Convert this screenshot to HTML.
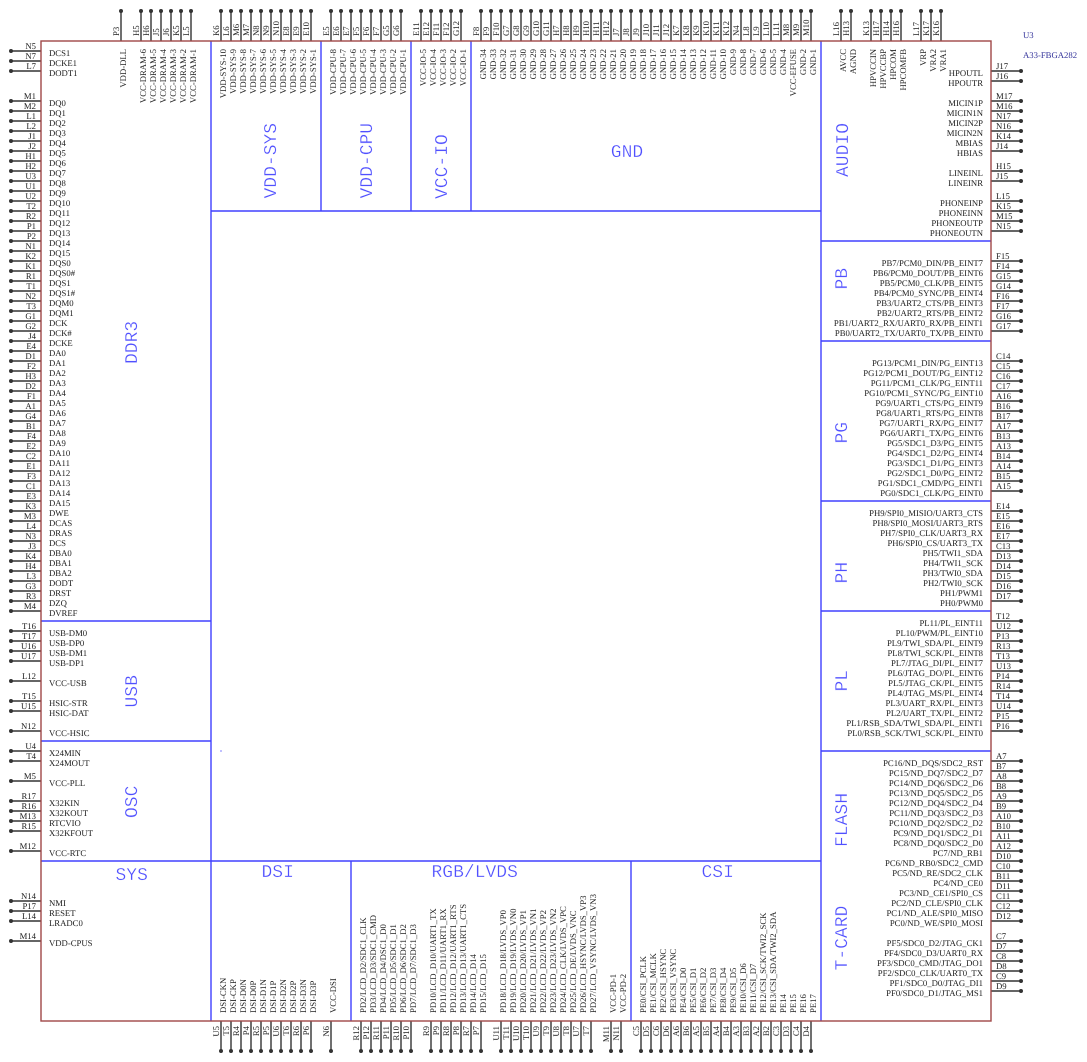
<!DOCTYPE html>
<html><head><meta charset="utf-8"><title>A33-FBGA282</title>
<style>
html,body{margin:0;padding:0;background:#fff}
svg{display:block}
text{font-family:"Liberation Serif",serif;font-size:8.7px;fill:#222;text-rendering:geometricPrecision}
.s text{font-family:"Liberation Mono",monospace;font-size:18px;fill:#5050ff;stroke:#fff;stroke-width:.3px}
.e{text-anchor:end}
</style></head><body>
<svg xmlns="http://www.w3.org/2000/svg" width="1087" height="1062" viewBox="0 0 1087 1062">
<defs><path id="p" d="M11 51h30M11 61h30M11 71h30M11 101h30M11 111h30M11 121h30M11 131h30M11 141h30M11 151h30M11 161h30M11 171h30M11 181h30M11 191h30M11 201h30M11 211h30M11 221h30M11 231h30M11 241h30M11 251h30M11 261h30M11 271h30M11 281h30M11 291h30M11 301h30M11 311h30M11 321h30M11 331h30M11 341h30M11 351h30M11 361h30M11 371h30M11 381h30M11 391h30M11 401h30M11 411h30M11 421h30M11 431h30M11 441h30M11 451h30M11 461h30M11 471h30M11 481h30M11 491h30M11 501h30M11 511h30M11 521h30M11 531h30M11 541h30M11 551h30M11 561h30M11 571h30M11 581h30M11 591h30M11 601h30M11 611h30M11 631h30M11 641h30M11 651h30M11 661h30M11 681h30M11 701h30M11 711h30M11 731h30M11 751h30M11 761h30M11 781h30M11 801h30M11 811h30M11 821h30M11 831h30M11 851h30M11 901h30M11 911h30M11 921h30M11 941h30
M1021 71h-30M1021 81h-30M1021 101h-30M1021 111h-30M1021 121h-30M1021 131h-30M1021 141h-30M1021 151h-30M1021 171h-30M1021 181h-30M1021 201h-30M1021 211h-30M1021 221h-30M1021 231h-30M1021 261h-30M1021 271h-30M1021 281h-30M1021 291h-30M1021 301h-30M1021 311h-30M1021 321h-30M1021 331h-30M1021 361h-30M1021 371h-30M1021 381h-30M1021 391h-30M1021 401h-30M1021 411h-30M1021 421h-30M1021 431h-30M1021 441h-30M1021 451h-30M1021 461h-30M1021 471h-30M1021 481h-30M1021 491h-30M1021 511h-30M1021 521h-30M1021 531h-30M1021 541h-30M1021 551h-30M1021 561h-30M1021 571h-30M1021 581h-30M1021 591h-30M1021 601h-30M1021 621h-30M1021 631h-30M1021 641h-30M1021 651h-30M1021 661h-30M1021 671h-30M1021 681h-30M1021 691h-30M1021 701h-30M1021 711h-30M1021 721h-30M1021 731h-30M1021 761h-30M1021 771h-30M1021 781h-30M1021 791h-30M1021 801h-30M1021 811h-30M1021 821h-30M1021 831h-30M1021 841h-30M1021 851h-30M1021 861h-30M1021 871h-30M1021 881h-30M1021 891h-30M1021 901h-30M1021 911h-30M1021 921h-30M1021 941h-30M1021 951h-30M1021 961h-30M1021 971h-30M1021 981h-30M1021 991h-30
M121 11v30M141 11v30M151 11v30M161 11v30M171 11v30M181 11v30M191 11v30M221 11v30M231 11v30M241 11v30M251 11v30M261 11v30M271 11v30M281 11v30M291 11v30M301 11v30M311 11v30M331 11v30M341 11v30M351 11v30M361 11v30M371 11v30M381 11v30M391 11v30M401 11v30M421 11v30M431 11v30M441 11v30M451 11v30M461 11v30M481 11v30M491 11v30M501 11v30M511 11v30M521 11v30M531 11v30M541 11v30M551 11v30M561 11v30M571 11v30M581 11v30M591 11v30M601 11v30M611 11v30M621 11v30M631 11v30M641 11v30M651 11v30M661 11v30M671 11v30M681 11v30M691 11v30M701 11v30M711 11v30M721 11v30M731 11v30M741 11v30M751 11v30M761 11v30M771 11v30M781 11v30M791 11v30M801 11v30M811 11v30M841 11v30M851 11v30M871 11v30M881 11v30M891 11v30M901 11v30M921 11v30M931 11v30M941 11v30
M221 1051v-30M231 1051v-30M241 1051v-30M251 1051v-30M261 1051v-30M271 1051v-30M281 1051v-30M291 1051v-30M301 1051v-30M311 1051v-30M331 1051v-30M361 1051v-30M371 1051v-30M381 1051v-30M391 1051v-30M401 1051v-30M411 1051v-30M431 1051v-30M441 1051v-30M451 1051v-30M461 1051v-30M471 1051v-30M481 1051v-30M501 1051v-30M511 1051v-30M521 1051v-30M531 1051v-30M541 1051v-30M551 1051v-30M561 1051v-30M571 1051v-30M581 1051v-30M591 1051v-30M611 1051v-30M621 1051v-30M641 1051v-30M651 1051v-30M661 1051v-30M671 1051v-30M681 1051v-30M691 1051v-30M701 1051v-30M711 1051v-30M721 1051v-30M731 1051v-30M741 1051v-30M751 1051v-30M761 1051v-30M771 1051v-30M781 1051v-30M791 1051v-30M801 1051v-30M811 1051v-30"/></defs>
<use href="#p" fill="none" stroke="#333" stroke-width="1.4"/>
<use href="#p" fill="none" stroke="#333" stroke-width="4" stroke-linecap="round" stroke-dasharray="0 99"/>
<path fill="none" stroke="#4040ff" stroke-width="1.4" d="M211 41V1021M321 41V211M411 41V211M471 41V211M821 41V1021M211 211H821M821 241H991M821 341H991M821 501H991M821 611H991M821 751H991M41 621H211M41 741H211M41 861H821M351 861V1021M631 861V1021"/>
<rect x="41" y="41" width="950" height="980" fill="none" stroke="#a04848" stroke-width="1.4"/>
<rect x="220" y="750" width="2" height="2" fill="#c0c0ff"/>
<g class="s">
<text x="627" y="157" text-anchor="middle">GND</text>
<text x="115.5" y="880">SYS</text>
<text x="261.5" y="877">DSI</text>
<text x="431.5" y="877">RGB/LVDS</text>
<text x="701.5" y="877">CSI</text>
<g transform="rotate(-90)">
<text x="-198.5" y="276">VDD-SYS</text>
<text x="-198.5" y="372">VDD-CPU</text>
<text x="-199" y="447">VCC-IO</text>
<text x="-177" y="848">AUDIO</text>
<text x="-364" y="137">DDR3</text>
<text x="-707.5" y="137">USB</text>
<text x="-818" y="137">OSC</text>
<text x="-289.5" y="847">PB</text>
<text x="-443.5" y="847">PG</text>
<text x="-583.5" y="847">PH</text>
<text x="-691.5" y="847">PL</text>
<text x="-847" y="847">FLASH</text>
<text x="-970.5" y="847">T-CARD</text>
</g></g>
<text x="1023" y="38" style="fill:#33339a">U3</text>
<text x="1023" y="58" style="fill:#33339a">A33-FBGA282</text>
<g class="e">
<text x="36" y="49">N5</text><text x="36" y="59">N7</text><text x="36" y="69">L7</text><text x="36" y="99">M1</text><text x="36" y="109">M2</text><text x="36" y="119">L1</text><text x="36" y="129">L2</text><text x="36" y="139">J1</text><text x="36" y="149">J2</text><text x="36" y="159">H1</text><text x="36" y="169">H2</text><text x="36" y="179">U3</text><text x="36" y="189">U1</text><text x="36" y="199">U2</text><text x="36" y="209">T2</text><text x="36" y="219">R2</text><text x="36" y="229">P1</text><text x="36" y="239">P2</text><text x="36" y="249">N1</text><text x="36" y="259">K2</text><text x="36" y="269">K1</text><text x="36" y="279">R1</text><text x="36" y="289">T1</text><text x="36" y="299">N2</text><text x="36" y="309">T3</text><text x="36" y="319">G1</text><text x="36" y="329">G2</text><text x="36" y="339">J4</text><text x="36" y="349">E4</text><text x="36" y="359">D1</text><text x="36" y="369">F2</text><text x="36" y="379">H3</text><text x="36" y="389">D2</text><text x="36" y="399">F1</text><text x="36" y="409">A1</text><text x="36" y="419">G4</text><text x="36" y="429">B1</text><text x="36" y="439">F4</text><text x="36" y="449">E2</text><text x="36" y="459">C2</text><text x="36" y="469">E1</text><text x="36" y="479">F3</text><text x="36" y="489">C1</text><text x="36" y="499">E3</text><text x="36" y="509">K3</text><text x="36" y="519">M3</text><text x="36" y="529">L4</text><text x="36" y="539">N3</text><text x="36" y="549">J3</text><text x="36" y="559">K4</text><text x="36" y="569">H4</text><text x="36" y="579">L3</text><text x="36" y="589">G3</text><text x="36" y="599">R3</text><text x="36" y="609">M4</text><text x="36" y="629">T16</text><text x="36" y="639">T17</text><text x="36" y="649">U16</text><text x="36" y="659">U17</text><text x="36" y="679">L12</text><text x="36" y="699">T15</text><text x="36" y="709">U15</text><text x="36" y="729">N12</text><text x="36" y="749">U4</text><text x="36" y="759">T4</text><text x="36" y="779">M5</text><text x="36" y="799">R17</text><text x="36" y="809">R16</text><text x="36" y="819">M13</text><text x="36" y="829">R15</text><text x="36" y="849">M12</text><text x="36" y="899">N14</text><text x="36" y="909">P17</text><text x="36" y="919">L14</text><text x="36" y="939">M14</text>
<text x="983" y="76">HPOUTL</text><text x="983" y="86">HPOUTR</text><text x="983" y="106">MICIN1P</text><text x="983" y="116">MICIN1N</text><text x="983" y="126">MICIN2P</text><text x="983" y="136">MICIN2N</text><text x="983" y="146">MBIAS</text><text x="983" y="156">HBIAS</text><text x="983" y="176">LINEINL</text><text x="983" y="186">LINEINR</text><text x="983" y="206">PHONEINP</text><text x="983" y="216">PHONEINN</text><text x="983" y="226">PHONEOUTP</text><text x="983" y="236">PHONEOUTN</text>
<text x="983" y="266">PB7/PCM0_DIN/PB_EINT7</text><text x="983" y="276">PB6/PCM0_DOUT/PB_EINT6</text><text x="983" y="286">PB5/PCM0_CLK/PB_EINT5</text><text x="983" y="296">PB4/PCM0_SYNC/PB_EINT4</text><text x="983" y="306">PB3/UART2_CTS/PB_EINT3</text><text x="983" y="316">PB2/UART2_RTS/PB_EINT2</text><text x="983" y="326">PB1/UART2_RX/UART0_RX/PB_EINT1</text><text x="983" y="336">PB0/UART2_TX/UART0_TX/PB_EINT0</text>
<text x="983" y="366">PG13/PCM1_DIN/PG_EINT13</text><text x="983" y="376">PG12/PCM1_DOUT/PG_EINT12</text><text x="983" y="386">PG11/PCM1_CLK/PG_EINT11</text><text x="983" y="396">PG10/PCM1_SYNC/PG_EINT10</text><text x="983" y="406">PG9/UART1_CTS/PG_EINT9</text><text x="983" y="416">PG8/UART1_RTS/PG_EINT8</text><text x="983" y="426">PG7/UART1_RX/PG_EINT7</text><text x="983" y="436">PG6/UART1_TX/PG_EINT6</text><text x="983" y="446">PG5/SDC1_D3/PG_EINT5</text><text x="983" y="456">PG4/SDC1_D2/PG_EINT4</text><text x="983" y="466">PG3/SDC1_D1/PG_EINT3</text><text x="983" y="476">PG2/SDC1_D0/PG_EINT2</text><text x="983" y="486">PG1/SDC1_CMD/PG_EINT1</text><text x="983" y="496">PG0/SDC1_CLK/PG_EINT0</text>
<text x="983" y="516">PH9/SPI0_MISIO/UART3_CTS</text><text x="983" y="526">PH8/SPI0_MOSI/UART3_RTS</text><text x="983" y="536">PH7/SPI0_CLK/UART3_RX</text><text x="983" y="546">PH6/SPI0_CS/UART3_TX</text><text x="983" y="556">PH5/TWI1_SDA</text><text x="983" y="566">PH4/TWI1_SCK</text><text x="983" y="576">PH3/TWI0_SDA</text><text x="983" y="586">PH2/TWI0_SCK</text><text x="983" y="596">PH1/PWM1</text><text x="983" y="606">PH0/PWM0</text>
<text x="983" y="626">PL11/PL_EINT11</text><text x="983" y="636">PL10/PWM/PL_EINT10</text><text x="983" y="646">PL9/TWI_SDA/PL_EINT9</text><text x="983" y="656">PL8/TWI_SCK/PL_EINT8</text><text x="983" y="666">PL7/JTAG_DI/PL_EINT7</text><text x="983" y="676">PL6/JTAG_DO/PL_EINT6</text><text x="983" y="686">PL5/JTAG_CK/PL_EINT5</text><text x="983" y="696">PL4/JTAG_MS/PL_EINT4</text><text x="983" y="706">PL3/UART_RX/PL_EINT3</text><text x="983" y="716">PL2/UART_TX/PL_EINT2</text><text x="983" y="726">PL1/RSB_SDA/TWI_SDA/PL_EINT1</text><text x="983" y="736">PL0/RSB_SCK/TWI_SCK/PL_EINT0</text>
<text x="983" y="766">PC16/ND_DQS/SDC2_RST</text><text x="983" y="776">PC15/ND_DQ7/SDC2_D7</text><text x="983" y="786">PC14/ND_DQ6/SDC2_D6</text><text x="983" y="796">PC13/ND_DQ5/SDC2_D5</text><text x="983" y="806">PC12/ND_DQ4/SDC2_D4</text><text x="983" y="816">PC11/ND_DQ3/SDC2_D3</text><text x="983" y="826">PC10/ND_DQ2/SDC2_D2</text><text x="983" y="836">PC9/ND_DQ1/SDC2_D1</text><text x="983" y="846">PC8/ND_DQ0/SDC2_D0</text><text x="983" y="856">PC7/ND_RB1</text><text x="983" y="866">PC6/ND_RB0/SDC2_CMD</text><text x="983" y="876">PC5/ND_RE/SDC2_CLK</text><text x="983" y="886">PC4/ND_CE0</text><text x="983" y="896">PC3/ND_CE1/SPI0_CS</text><text x="983" y="906">PC2/ND_CLE/SPI0_CLK</text><text x="983" y="916">PC1/ND_ALE/SPI0_MISO</text><text x="983" y="926">PC0/ND_WE/SPI0_MOSI</text>
<text x="983" y="946">PF5/SDC0_D2/JTAG_CK1</text><text x="983" y="956">PF4/SDC0_D3/UART0_RX</text><text x="983" y="966">PF3/SDC0_CMD/JTAG_DO1</text><text x="983" y="976">PF2/SDC0_CLK/UART0_TX</text><text x="983" y="986">PF1/SDC0_D0/JTAG_DI1</text><text x="983" y="996">PF0/SDC0_D1/JTAG_MS1</text>
</g>
<g>
<text x="49" y="56">DCS1</text><text x="49" y="66">DCKE1</text><text x="49" y="76">DODT1</text><text x="49" y="106">DQ0</text><text x="49" y="116">DQ1</text><text x="49" y="126">DQ2</text><text x="49" y="136">DQ3</text><text x="49" y="146">DQ4</text><text x="49" y="156">DQ5</text><text x="49" y="166">DQ6</text><text x="49" y="176">DQ7</text><text x="49" y="186">DQ8</text><text x="49" y="196">DQ9</text><text x="49" y="206">DQ10</text><text x="49" y="216">DQ11</text><text x="49" y="226">DQ12</text><text x="49" y="236">DQ13</text><text x="49" y="246">DQ14</text><text x="49" y="256">DQ15</text><text x="49" y="266">DQS0</text><text x="49" y="276">DQS0#</text><text x="49" y="286">DQS1</text><text x="49" y="296">DQS1#</text><text x="49" y="306">DQM0</text><text x="49" y="316">DQM1</text><text x="49" y="326">DCK</text><text x="49" y="336">DCK#</text><text x="49" y="346">DCKE</text><text x="49" y="356">DA0</text><text x="49" y="366">DA1</text><text x="49" y="376">DA2</text><text x="49" y="386">DA3</text><text x="49" y="396">DA4</text><text x="49" y="406">DA5</text><text x="49" y="416">DA6</text><text x="49" y="426">DA7</text><text x="49" y="436">DA8</text><text x="49" y="446">DA9</text><text x="49" y="456">DA10</text><text x="49" y="466">DA11</text><text x="49" y="476">DA12</text><text x="49" y="486">DA13</text><text x="49" y="496">DA14</text><text x="49" y="506">DA15</text><text x="49" y="516">DWE</text><text x="49" y="526">DCAS</text><text x="49" y="536">DRAS</text><text x="49" y="546">DCS</text><text x="49" y="556">DBA0</text><text x="49" y="566">DBA1</text><text x="49" y="576">DBA2</text><text x="49" y="586">DODT</text><text x="49" y="596">DRST</text><text x="49" y="606">DZQ</text><text x="49" y="616">DVREF</text><text x="49" y="636">USB-DM0</text><text x="49" y="646">USB-DP0</text><text x="49" y="656">USB-DM1</text><text x="49" y="666">USB-DP1</text><text x="49" y="686">VCC-USB</text><text x="49" y="706">HSIC-STR</text><text x="49" y="716">HSIC-DAT</text><text x="49" y="736">VCC-HSIC</text><text x="49" y="756">X24MIN</text><text x="49" y="766">X24MOUT</text><text x="49" y="786">VCC-PLL</text><text x="49" y="806">X32KIN</text><text x="49" y="816">X32KOUT</text><text x="49" y="826">RTCVIO</text><text x="49" y="836">X32KFOUT</text><text x="49" y="856">VCC-RTC</text><text x="49" y="906">NMI</text><text x="49" y="916">RESET</text><text x="49" y="926">LRADC0</text><text x="49" y="946">VDD-CPUS</text>
<text x="996" y="69">J17</text><text x="996" y="79">J16</text><text x="996" y="99">M17</text><text x="996" y="109">M16</text><text x="996" y="119">N17</text><text x="996" y="129">N16</text><text x="996" y="139">K14</text><text x="996" y="149">J14</text><text x="996" y="169">H15</text><text x="996" y="179">J15</text><text x="996" y="199">L15</text><text x="996" y="209">K15</text><text x="996" y="219">M15</text><text x="996" y="229">N15</text>
<text x="996" y="259">F15</text><text x="996" y="269">F14</text><text x="996" y="279">G15</text><text x="996" y="289">G14</text><text x="996" y="299">F16</text><text x="996" y="309">F17</text><text x="996" y="319">G16</text><text x="996" y="329">G17</text>
<text x="996" y="359">C14</text><text x="996" y="369">C15</text><text x="996" y="379">C16</text><text x="996" y="389">C17</text><text x="996" y="399">A16</text><text x="996" y="409">B16</text><text x="996" y="419">B17</text><text x="996" y="429">A17</text><text x="996" y="439">B13</text><text x="996" y="449">A13</text><text x="996" y="459">B14</text><text x="996" y="469">A14</text><text x="996" y="479">B15</text><text x="996" y="489">A15</text>
<text x="996" y="509">E14</text><text x="996" y="519">E15</text><text x="996" y="529">E16</text><text x="996" y="539">E17</text><text x="996" y="549">C13</text><text x="996" y="559">D13</text><text x="996" y="569">D14</text><text x="996" y="579">D15</text><text x="996" y="589">D16</text><text x="996" y="599">D17</text>
<text x="996" y="619">T12</text><text x="996" y="629">U12</text><text x="996" y="639">P13</text><text x="996" y="649">R13</text><text x="996" y="659">T13</text><text x="996" y="669">U13</text><text x="996" y="679">P14</text><text x="996" y="689">R14</text><text x="996" y="699">T14</text><text x="996" y="709">U14</text><text x="996" y="719">P15</text><text x="996" y="729">P16</text>
<text x="996" y="759">A7</text><text x="996" y="769">B7</text><text x="996" y="779">A8</text><text x="996" y="789">B8</text><text x="996" y="799">A9</text><text x="996" y="809">B9</text><text x="996" y="819">A10</text><text x="996" y="829">B10</text><text x="996" y="839">A11</text><text x="996" y="849">A12</text><text x="996" y="859">D10</text><text x="996" y="869">C10</text><text x="996" y="879">B11</text><text x="996" y="889">D11</text><text x="996" y="899">C11</text><text x="996" y="909">C12</text><text x="996" y="919">D12</text>
<text x="996" y="939">C7</text><text x="996" y="949">D7</text><text x="996" y="959">C8</text><text x="996" y="969">D8</text><text x="996" y="979">C9</text><text x="996" y="989">D9</text>
</g>
<g transform="rotate(-90)">
<g>
<text x="-36" y="119">P3</text><text x="-36" y="139">H5</text><text x="-36" y="149">H6</text><text x="-36" y="159">J5</text><text x="-36" y="169">J6</text><text x="-36" y="179">K5</text><text x="-36" y="189">L5</text><text x="-36" y="219">K6</text><text x="-36" y="229">L6</text><text x="-36" y="239">M6</text><text x="-36" y="249">M7</text><text x="-36" y="259">N8</text><text x="-36" y="269">N9</text><text x="-36" y="279">N10</text><text x="-36" y="289">E8</text><text x="-36" y="299">E9</text><text x="-36" y="309">E10</text><text x="-36" y="329">E5</text><text x="-36" y="339">E6</text><text x="-36" y="349">E7</text><text x="-36" y="359">F5</text><text x="-36" y="369">F6</text><text x="-36" y="379">F7</text><text x="-36" y="389">G5</text><text x="-36" y="399">G6</text><text x="-36" y="419">E11</text><text x="-36" y="429">E12</text><text x="-36" y="439">F11</text><text x="-36" y="449">F12</text><text x="-36" y="459">G12</text><text x="-36" y="479">F8</text><text x="-36" y="489">F9</text><text x="-36" y="499">F10</text><text x="-36" y="509">G7</text><text x="-36" y="519">G8</text><text x="-36" y="529">G9</text><text x="-36" y="539">G10</text><text x="-36" y="549">G11</text><text x="-36" y="559">H7</text><text x="-36" y="569">H8</text><text x="-36" y="579">H9</text><text x="-36" y="589">H10</text><text x="-36" y="599">H11</text><text x="-36" y="609">H12</text><text x="-36" y="619">J7</text><text x="-36" y="629">J8</text><text x="-36" y="639">J9</text><text x="-36" y="649">J10</text><text x="-36" y="659">J11</text><text x="-36" y="669">J12</text><text x="-36" y="679">K7</text><text x="-36" y="689">K8</text><text x="-36" y="699">K9</text><text x="-36" y="709">K10</text><text x="-36" y="719">K11</text><text x="-36" y="729">K12</text><text x="-36" y="739">N4</text><text x="-36" y="749">L8</text><text x="-36" y="759">L9</text><text x="-36" y="769">L10</text><text x="-36" y="779">L11</text><text x="-36" y="789">M8</text><text x="-36" y="799">M9</text><text x="-36" y="809">M10</text><text x="-36" y="839">L16</text><text x="-36" y="849">H13</text><text x="-36" y="869">K13</text><text x="-36" y="879">H17</text><text x="-36" y="889">H14</text><text x="-36" y="899">H16</text><text x="-36" y="919">L17</text><text x="-36" y="929">K17</text><text x="-36" y="939">K16</text>
<text x="-1013" y="226">DSI-CKN</text><text x="-1013" y="236">DSI-CKP</text><text x="-1013" y="246">DSI-D0N</text><text x="-1013" y="256">DSI-D0P</text><text x="-1013" y="266">DSI-D1N</text><text x="-1013" y="276">DSI-D1P</text><text x="-1013" y="286">DSI-D2N</text><text x="-1013" y="296">DSI-D2P</text><text x="-1013" y="306">DSI-D3N</text><text x="-1013" y="316">DSI-D3P</text><text x="-1013" y="336">VCC-DSI</text>
<text x="-1013" y="366">PD2/LCD_D2/SDC1_CLK</text><text x="-1013" y="376">PD3/LCD_D3/SDC1_CMD</text><text x="-1013" y="386">PD4/LCD_D4/DSC1_D0</text><text x="-1013" y="396">PD5/LCD_D5/SDC1_D1</text><text x="-1013" y="406">PD6/LCD_D6/SDC1_D2</text><text x="-1013" y="416">PD7/LCD_D7/SDC1_D3</text><text x="-1013" y="436">PD10/LCD_D10/UART1_TX</text><text x="-1013" y="446">PD11/LCD_D11/UART1_RX</text><text x="-1013" y="456">PD12/LCD_D12/UART1_RTS</text><text x="-1013" y="466">PD13/LCD_D13/UART1_CTS</text><text x="-1013" y="476">PD14/LCD_D14</text><text x="-1013" y="486">PD15/LCD_D15</text><text x="-1013" y="506">PD18/LCD_D18/LVDS_VP0</text><text x="-1013" y="516">PD19/LCD_D19/LVDS_VN0</text><text x="-1013" y="526">PD20/LCD_D20/LVDS_VP1</text><text x="-1013" y="536">PD21/LCD_D21/LVDS_VN1</text><text x="-1013" y="546">PD22/LCD_D22/LVDS_VP2</text><text x="-1013" y="556">PD23/LCD_D23/LVDS_VN2</text><text x="-1013" y="566">PD24/LCD_CLK/LVDS_VPC</text><text x="-1013" y="576">PD25/LCD_DE/LVDS_VNC</text><text x="-1013" y="586">PD26/LCD_HSYNC/LVDS_VP3</text><text x="-1013" y="596">PD27/LCD_VSYNC/LVDS_VN3</text><text x="-1013" y="616">VCC-PD-1</text><text x="-1013" y="626">VCC-PD-2</text>
<text x="-1013" y="646">PE0/CSI_PCLK</text><text x="-1013" y="656">PE1/CSI_MCLK</text><text x="-1013" y="666">PE2/CSI_HSYNC</text><text x="-1013" y="676">PE3/CSI_VSYNC</text><text x="-1013" y="686">PE4/CSI_D0</text><text x="-1013" y="696">PE5/CSI_D1</text><text x="-1013" y="706">PE6/CSI_D2</text><text x="-1013" y="716">PE7/CSI_D3</text><text x="-1013" y="726">PE8/CSI_D4</text><text x="-1013" y="736">PE9/CSI_D5</text><text x="-1013" y="746">PE10/CSI_D6</text><text x="-1013" y="756">PE11/CSI_D7</text><text x="-1013" y="766">PE12/CSI_SCK/TWI2_SCK</text><text x="-1013" y="776">PE13/CSI_SDA/TWI2_SDA</text><text x="-1013" y="786">PE14</text><text x="-1013" y="796">PE15</text><text x="-1013" y="806">PE16</text><text x="-1013" y="816">PE17</text>
</g>
<g class="e">
<text x="-49" y="126">VDD-DLL</text><text x="-49" y="146">VCC-DRAM-6</text><text x="-49" y="156">VCC-DRAM-5</text><text x="-49" y="166">VCC-DRAM-4</text><text x="-49" y="176">VCC-DRAM-3</text><text x="-49" y="186">VCC-DRAM-2</text><text x="-49" y="196">VCC-DRAM-1</text>
<text x="-49" y="226">VDD-SYS-10</text><text x="-49" y="236">VDD-SYS-9</text><text x="-49" y="246">VDD-SYS-8</text><text x="-49" y="256">VDD-SYS-7</text><text x="-49" y="266">VDD-SYS-6</text><text x="-49" y="276">VDD-SYS-5</text><text x="-49" y="286">VDD-SYS-4</text><text x="-49" y="296">VDD-SYS-3</text><text x="-49" y="306">VDD-SYS-2</text><text x="-49" y="316">VDD-SYS-1</text>
<text x="-49" y="336">VDD-CPU-8</text><text x="-49" y="346">VDD-CPU-7</text><text x="-49" y="356">VDD-CPU-6</text><text x="-49" y="366">VDD-CPU-5</text><text x="-49" y="376">VDD-CPU-4</text><text x="-49" y="386">VDD-CPU-3</text><text x="-49" y="396">VDD-CPU-2</text><text x="-49" y="406">VDD-CPU-1</text>
<text x="-49" y="426">VCC-IO-5</text><text x="-49" y="436">VCC-IO-4</text><text x="-49" y="446">VCC-IO-3</text><text x="-49" y="456">VCC-IO-2</text><text x="-49" y="466">VCC-IO-1</text>
<text x="-49" y="486">GND-34</text><text x="-49" y="496">GND-33</text><text x="-49" y="506">GND-32</text><text x="-49" y="516">GND-31</text><text x="-49" y="526">GND-30</text><text x="-49" y="536">GND-29</text><text x="-49" y="546">GND-28</text><text x="-49" y="556">GND-27</text><text x="-49" y="566">GND-26</text><text x="-49" y="576">GND-25</text><text x="-49" y="586">GND-24</text><text x="-49" y="596">GND-23</text><text x="-49" y="606">GND-22</text><text x="-49" y="616">GND-21</text><text x="-49" y="626">GND-20</text><text x="-49" y="636">GND-19</text><text x="-49" y="646">GND-18</text><text x="-49" y="656">GND-17</text><text x="-49" y="666">GND-16</text><text x="-49" y="676">GND-15</text><text x="-49" y="686">GND-14</text><text x="-49" y="696">GND-13</text><text x="-49" y="706">GND-12</text><text x="-49" y="716">GND-11</text><text x="-49" y="726">GND-10</text><text x="-49" y="736">GND-9</text><text x="-49" y="746">GND-8</text><text x="-49" y="756">GND-7</text><text x="-49" y="766">GND-6</text><text x="-49" y="776">GND-5</text><text x="-49" y="786">GND-4</text><text x="-49" y="796">VCC-EFUSE</text><text x="-49" y="806">GND-2</text><text x="-49" y="816">GND-1</text>
<text x="-49" y="846">AVCC</text><text x="-49" y="856">AGND</text><text x="-49" y="876">HPVCCIN</text><text x="-49" y="886">HPVCCBP</text><text x="-49" y="896">HPCOM</text><text x="-49" y="906">HPCOMFB</text><text x="-49" y="926">VRP</text><text x="-49" y="936">VRA2</text><text x="-49" y="946">VRA1</text>
<text x="-1026" y="219">U5</text><text x="-1026" y="229">T5</text><text x="-1026" y="239">R4</text><text x="-1026" y="249">P4</text><text x="-1026" y="259">R5</text><text x="-1026" y="269">P5</text><text x="-1026" y="279">U6</text><text x="-1026" y="289">T6</text><text x="-1026" y="299">R6</text><text x="-1026" y="309">P6</text><text x="-1026" y="329">N6</text><text x="-1026" y="359">R12</text><text x="-1026" y="369">P12</text><text x="-1026" y="379">R11</text><text x="-1026" y="389">P11</text><text x="-1026" y="399">R10</text><text x="-1026" y="409">P10</text><text x="-1026" y="429">R9</text><text x="-1026" y="439">P9</text><text x="-1026" y="449">R8</text><text x="-1026" y="459">P8</text><text x="-1026" y="469">R7</text><text x="-1026" y="479">P7</text><text x="-1026" y="499">U11</text><text x="-1026" y="509">T11</text><text x="-1026" y="519">U10</text><text x="-1026" y="529">T10</text><text x="-1026" y="539">U9</text><text x="-1026" y="549">T9</text><text x="-1026" y="559">U8</text><text x="-1026" y="569">T8</text><text x="-1026" y="579">U7</text><text x="-1026" y="589">T7</text><text x="-1026" y="609">M11</text><text x="-1026" y="619">N11</text><text x="-1026" y="639">C5</text><text x="-1026" y="649">D5</text><text x="-1026" y="659">C6</text><text x="-1026" y="669">D6</text><text x="-1026" y="679">A6</text><text x="-1026" y="689">B6</text><text x="-1026" y="699">A5</text><text x="-1026" y="709">B5</text><text x="-1026" y="719">A4</text><text x="-1026" y="729">B4</text><text x="-1026" y="739">A3</text><text x="-1026" y="749">B3</text><text x="-1026" y="759">A2</text><text x="-1026" y="769">B2</text><text x="-1026" y="779">C3</text><text x="-1026" y="789">D3</text><text x="-1026" y="799">C4</text><text x="-1026" y="809">D4</text>
</g></g>
</svg>
</body></html>
